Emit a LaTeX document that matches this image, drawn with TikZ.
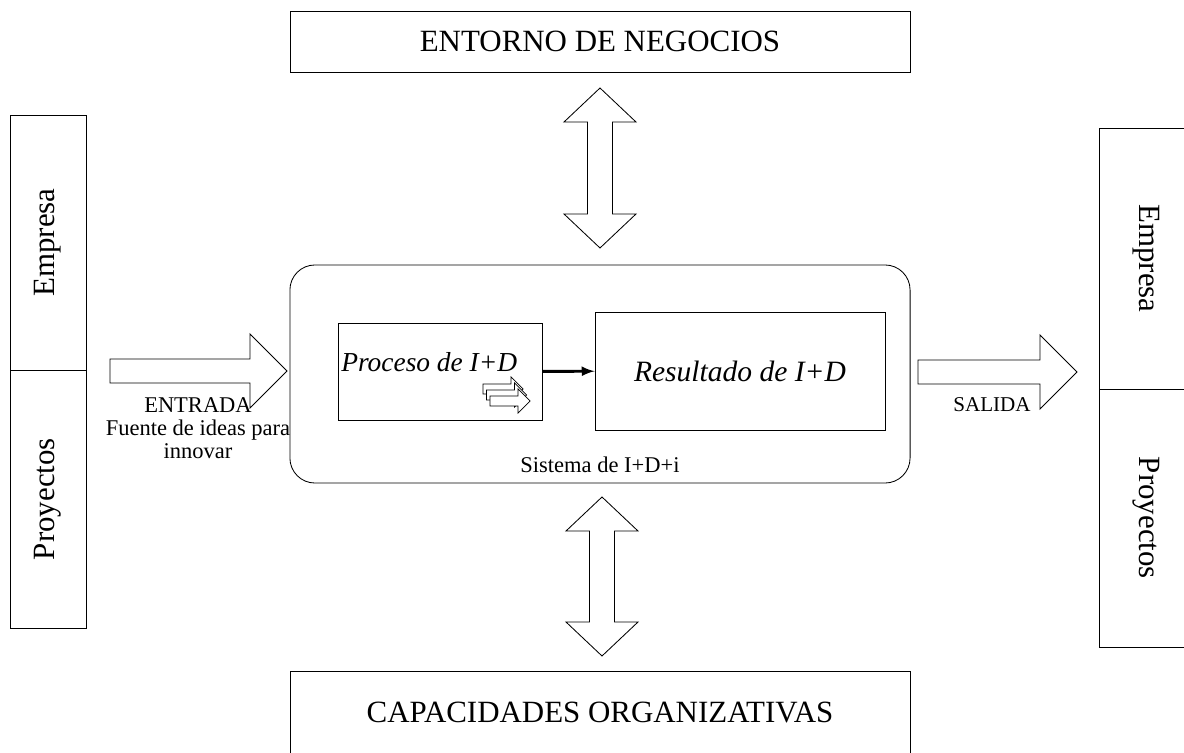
\documentclass[tikz,border=0pt]{standalone}
\usepackage{fontspec}
\setmainfont{Liberation Serif}
\begin{document}
\begin{tikzpicture}[
	x=0.025cm, y=-0.025cm,
	box/.style={draw,line width=0.6pt,inner sep=0pt},
	bigtxt/.style={font=\fontsize{22}{26}\selectfont},
	midtxt/.style={font=\fontsize{19.5}{23}\selectfont\itshape},
	smalltxt/.style={font=\fontsize{16}{16.5}\selectfont,inner sep=0pt},
	blockarr/.style={draw,line width=0.6pt,fill=white,line join=miter}
]

	\path[use as bounding box] (0,0) rectangle (1184,753);
	\clip (0,0) rectangle (1184,753);

	\node[box,bigtxt,minimum width=15.5cm,minimum height=1.525cm] at (600,41.5) (entorno) {ENTORNO DE NEGOCIOS};
	\node[box,bigtxt,minimum width=15.5cm,minimum height=2.05cm] at (600,712) (capac) {CAPACIDADES ORGANIZATIVAS};

	\node[box,bigtxt,rotate=90,minimum width=6.375cm,minimum height=1.9cm] at (48,242.5) (empL) {Empresa};
	\node[box,bigtxt,rotate=90,minimum width=6.45cm,minimum height=1.9cm] at (48,499) (proyL) {Proyectos};
	\node[box,bigtxt,rotate=-90,minimum width=6.525cm,minimum height=2.375cm] at (1146.5,258.5) (empR) {Empresa};
	\node[box,bigtxt,rotate=-90,minimum width=6.45cm,minimum height=2.375cm] at (1146.5,518) (proyR) {Proyectos};

	\node[box,rounded corners=0.625cm,minimum width=15.5cm,minimum height=5.45cm] at (600,374) (sistema) {};
	\node[smalltxt] at (600,465) (sislbl) {Sistema de I+D+i};

	\node[box,minimum width=5.1cm,minimum height=2.425cm] at (440,371.5) (proceso) {};
	\node[midtxt,anchor=base west,inner sep=0pt] at (341,372) (proclbl) {Proceso de I+D};
	\node[box,midtxt,font=\fontsize{21}{25}\selectfont\itshape,minimum width=7.25cm,minimum height=2.95cm] at (740,371) (result) {Resultado de I+D};

	\draw[line width=2.1pt,-latex] (proceso) -- (result);

	% small arrows inside the process box
	\foreach \dx/\dy in {0/0,3.5/6,7/12}
		\draw[blockarr,line width=0.5pt] (483+\dx,384+\dy) -- (511+\dx,384+\dy) -- (511+\dx,377+\dy)
			-- (523+\dx,389+\dy) -- (511+\dx,401+\dy) -- (511+\dx,394+\dy) -- (483+\dx,394+\dy) -- cycle;

	% entrada / salida
	\draw[blockarr] (110,359) -- (250,359) -- (250,334) -- (287,371) -- (250,408) -- (250,383) -- (110,383) -- cycle;
	\node[smalltxt,align=center,anchor=north] at (198,397) (entrada) {ENTRADA\\Fuente de ideas para\\innovar};
	\draw[blockarr] (918,360) -- (1040,360) -- (1040,335) -- (1077,372) -- (1040,409) -- (1040,384) -- (918,384) -- cycle;
	\node[smalltxt,font=\fontsize{15}{16}\selectfont] at (992,405) (salida) {SALIDA};

	% up and down
	\draw[blockarr] (600,88) -- (636,122) -- (612.5,122) -- (612.5,214) -- (636,214) -- (600,248)
		-- (564,214) -- (587.5,214) -- (587.5,122) -- (564,122) -- cycle;
	\draw[blockarr] (602,497) -- (638,531) -- (614.5,531) -- (614.5,622) -- (638,622) -- (602,656)
		-- (566,622) -- (589.5,622) -- (589.5,531) -- (566,531) -- cycle;

\end{tikzpicture}
\end{document}
